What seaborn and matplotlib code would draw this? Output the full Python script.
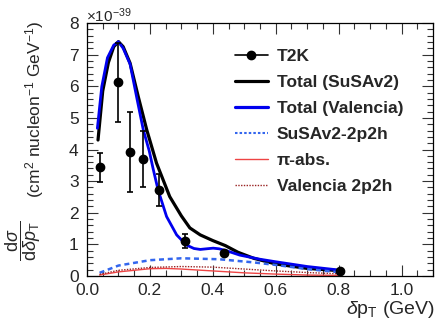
import numpy as np
import pandas as pd
import matplotlib
matplotlib.use("Agg")
import matplotlib.pyplot as plt
from matplotlib.lines import Line2D
from matplotlib.ticker import MultipleLocator
import seaborn as sns

# ---- data (cross sections in units of 1e-39 cm^2/nucleon/GeV) ----
t2k_x = [0.04, 0.10, 0.1375, 0.1775, 0.23, 0.31, 0.435, 0.805]
t2k_y = [3.44, 6.13, 3.93, 3.70, 2.72, 1.10, 0.74, 0.17]
t2k_err = [0.46, 1.25, 1.26, 0.87, 0.50, 0.23, 0.06, 0.02]

susa_x = [0.035, 0.05, 0.068, 0.085, 0.10, 0.115, 0.137, 0.163, 0.19, 0.221, 0.263,
          0.30, 0.327, 0.36, 0.40, 0.44, 0.48, 0.53, 0.60, 0.70, 0.80]
susa_y = [4.30, 5.85, 6.75, 7.25, 7.41, 7.25, 6.73, 5.67, 4.62, 3.57, 2.51,
          1.90, 1.52, 1.30, 1.12, 0.96, 0.75, 0.56, 0.38, 0.24, 0.17]

val_x = [0.033, 0.047, 0.065, 0.085, 0.10, 0.115, 0.137, 0.16, 0.179, 0.198, 0.21,
         0.226, 0.253, 0.274, 0.285, 0.316, 0.34, 0.36, 0.38, 0.401, 0.42, 0.443,
         0.486, 0.55, 0.60, 0.70, 0.80]
val_y = [4.67, 5.99, 6.90, 7.30, 7.41, 7.20, 6.70, 5.55, 4.62, 3.95, 3.40,
         2.72, 1.88, 1.50, 1.30, 0.98, 0.87, 0.84, 0.86, 0.88, 0.86, 0.80,
         0.66, 0.53, 0.45, 0.30, 0.19]

s2p2h_x = [0.04, 0.10, 0.20, 0.30, 0.42, 0.53, 0.60, 0.70, 0.80]
s2p2h_y = [0.10, 0.33, 0.50, 0.56, 0.53, 0.43, 0.35, 0.22, 0.12]

piabs_x = [0.04, 0.10, 0.20, 0.25, 0.30, 0.40, 0.50, 0.60, 0.70, 0.80]
piabs_y = [0.03, 0.13, 0.23, 0.24, 0.22, 0.16, 0.10, 0.06, 0.03, 0.02]

v2p2h_x = [0.04, 0.10, 0.20, 0.30, 0.40, 0.50, 0.60, 0.70, 0.80]
v2p2h_y = [0.05, 0.18, 0.27, 0.30, 0.28, 0.22, 0.16, 0.11, 0.07]

labels = ["T2K", "Total (SuSAv2)", "Total (Valencia)", "SuSAv2-2p2h", "\u03c0-abs.", "Valencia 2p2h"]

# ---- style ----
sns.set_theme(style="ticks")
plt.rcParams["font.family"] = ["Liberation Sans", "DejaVu Sans"]
plt.rcParams["mathtext.fontset"] = "custom"
plt.rcParams["mathtext.rm"] = "Liberation Sans"
plt.rcParams["mathtext.it"] = "Liberation Sans:italic"
plt.rcParams["mathtext.bf"] = "Liberation Sans:bold"

W, H = 437, 325
fig = plt.figure(figsize=(W / 100, H / 100), dpi=100)
ax = fig.add_axes([87 / W, 1 - 276 / H, (433 - 87) / W, (276 - 23) / H])

blue = "#0000ee"
dblue = "#3366ee"
red = "#ee4444"
dred = "#992222"

sns.lineplot(x=susa_x, y=susa_y, ax=ax, color="black", lw=2.3, sort=False)
sns.lineplot(x=val_x, y=val_y, ax=ax, color=blue, lw=2.0, sort=False)
sns.lineplot(x=s2p2h_x, y=s2p2h_y, ax=ax, color=dblue, lw=1.8, sort=False,
             linestyle=(0, (2, 1.5)))
sns.lineplot(x=piabs_x, y=piabs_y, ax=ax, color=red, lw=1.0, sort=False)
sns.lineplot(x=v2p2h_x, y=v2p2h_y, ax=ax, color=dred, lw=1.0, sort=False,
             linestyle=(0, (1, 1)))
ax.errorbar(t2k_x, t2k_y, yerr=t2k_err, fmt="o", color="black", ms=6,
            elinewidth=1.2, capsize=2.5, capthick=1.2, zorder=5)

ax.set_xlim(0, 1.1)
ax.set_ylim(0, 8)
ax.xaxis.set_major_locator(MultipleLocator(0.2))
ax.xaxis.set_minor_locator(MultipleLocator(0.05))
ax.yaxis.set_major_locator(MultipleLocator(1))
ax.yaxis.set_minor_locator(MultipleLocator(0.2))
ax.xaxis.set_major_formatter(matplotlib.ticker.FormatStrFormatter("%.1f"))
ax.tick_params(which="both", direction="in", top=True, right=True, color="#333333",
               labelsize=12.5, width=0.8)
ax.tick_params(which="major", length=8)
ax.tick_params(axis="x", which="major", pad=5)
ax.tick_params(axis="y", which="major", pad=6)
ax.tick_params(which="minor", length=4)
for s in ax.spines.values():
    s.set_linewidth(0.9)
    s.set_color("black")
ax.set_xlabel("")
ax.set_ylabel("")

# legend
handles = [
    Line2D([], [], color="black", marker="o", ms=6, lw=1.2),
    Line2D([], [], color="black", lw=2.3),
    Line2D([], [], color=blue, lw=2.3),
    Line2D([], [], color=dblue, lw=1.5, linestyle=(0, (1.2, 1.0))),
    Line2D([], [], color=red, lw=1.0),
    Line2D([], [], color=dred, lw=1.0, linestyle=(0, (1, 1))),
]
ax.legend(handles, labels, loc="upper left",
          bbox_to_anchor=((235 - 87) / 346, (276 - 49) / 253),
          frameon=False, prop={"weight": "bold", "size": 12.5},
          handlelength=1.9, handletextpad=0.5, labelspacing=0.62,
          borderpad=0, borderaxespad=0)

# axis texts
fig.text(86 / W, 1 - 16 / H, r"$\times$10$^{-39}$", ha="left", va="center", fontsize=11)
fig.text(435 / W, 1 - 310 / H, r"$\delta$p$_{\mathrm{T}}$ (GeV)", ha="right",
         va="center", fontsize=14)
fig.text(23 / W, 1 - 241 / H, r"$\dfrac{\mathrm{d}\sigma}{\mathrm{d}\delta p_{\mathrm{T}}}$",
         rotation=90, ha="center", va="center", fontsize=13)
fig.text(35 / W, 1 - 109 / H, r"(cm$^{2}$ nucleon$^{-1}$ GeV$^{-1}$)",
         rotation=90, ha="center", va="center", fontsize=12.5)

fig.savefig("out.png", dpi=100)
